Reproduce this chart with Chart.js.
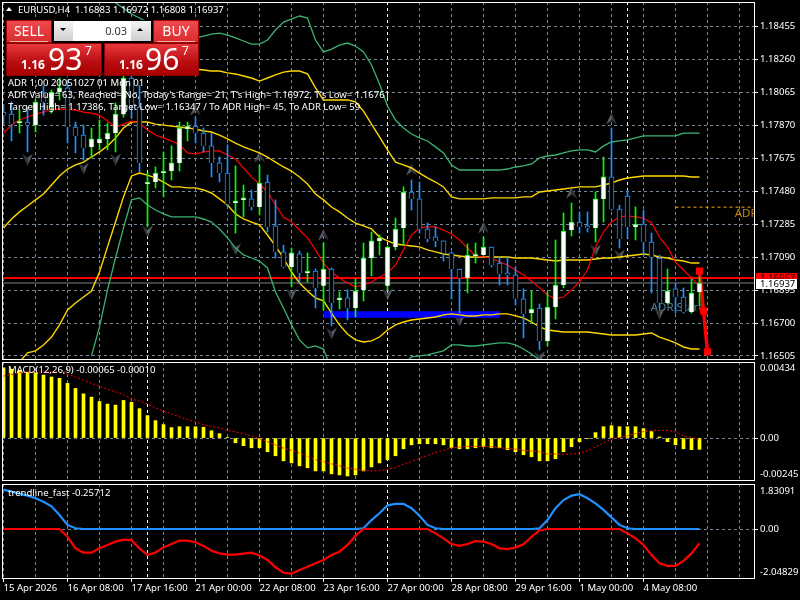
<!DOCTYPE html>
<html>
<head>
<meta charset="utf-8">
<title>EURUSD,H4</title>
<script src="https://cdn.jsdelivr.net/npm/chart.js@4"></script>
<style>
html, body { margin: 0; padding: 0; background: #000; width: 800px; height: 600px; overflow: hidden; }
canvas { position: absolute; left: 0; }
#pricePane { top: 0; }
#macdPane { top: 361px; }
#trendPane { top: 483px; }
.txt { position: absolute; color: #fff; font: 9.55px "Noto Sans", sans-serif; white-space: nowrap; line-height: 12px; }
.box { position: absolute; box-sizing: border-box; }
.red { background: linear-gradient(#e8383c, #b80c10 60%, #a80000); border: 1px solid #8c0000; color: #fff; }
.btn { background: linear-gradient(#ef4a4e, #d82c30); border: 1px solid #a00000; color: #fff; font: 14px "Noto Sans", sans-serif; text-align: center; line-height: 20px; }
.btn i { position: absolute; left: 3px; right: 3px; bottom: 0; height: 1px; background: #f0b0b0; }
.grey { background: linear-gradient(#f4f4f4, #cfcfcf); }
.big { position: absolute; color: #fff; font-family: "Noto Sans", sans-serif; line-height: 1; }
</style>
</head>
<body>
<canvas id="pricePane" width="800" height="360"></canvas>
<canvas id="macdPane" width="800" height="120"></canvas>
<canvas id="trendPane" width="800" height="117"></canvas>

<div class="box" style="left:6px;top:7px;width:0;height:0;border-left:3.5px solid transparent;border-right:3.5px solid transparent;border-bottom:4px solid #fff"></div>
<div class="txt" style="left:18px;top:4px">EURUSD,H4&nbsp; 1.16883 1.16972 1.16808 1.16937</div>

<div class="box btn" style="left:6px;top:20px;width:46px;height:23px">SELL<i></i></div>
<div class="box btn" style="left:153px;top:20px;width:46px;height:23px">BUY<i></i></div>
<div class="box" style="left:52px;top:20px;width:101px;height:23px;background:#000"></div>
<div class="box grey" style="left:54px;top:21px;width:19px;height:20px"></div>
<div class="box" style="left:60px;top:28px;width:0;height:0;border-left:3.5px solid transparent;border-right:3.5px solid transparent;border-top:3.5px solid #000"></div>
<div class="box" style="left:73px;top:21px;width:58px;height:20px;background:#fff;color:#333;font:11px 'Noto Sans',sans-serif;text-align:right;line-height:20px;padding-right:4px">0.03</div>
<div class="box grey" style="left:131px;top:21px;width:20px;height:20px"></div>
<div class="box" style="left:137px;top:28px;width:0;height:0;border-left:3.5px solid transparent;border-right:3.5px solid transparent;border-bottom:3.5px solid #000"></div>
<div class="box red" style="left:6px;top:43px;width:96px;height:33px"></div>
<div class="box red" style="left:104px;top:43px;width:95px;height:33px"></div>
<div class="big" style="left:21px;top:59px;font-size:12px;font-weight:bold">1.16</div>
<div class="big" style="left:48px;top:44px;font-size:30px">93</div>
<div class="big" style="left:85px;top:45px;font-size:12px">7</div>
<div class="big" style="left:119px;top:59px;font-size:12px;font-weight:bold">1.16</div>
<div class="big" style="left:145px;top:44px;font-size:30px">96</div>
<div class="big" style="left:182px;top:45px;font-size:12px">7</div>

<div class="txt" style="left:8px;top:77px">ADR 1,00 20051027 01 Mon 01</div>
<div class="txt" style="left:8px;top:89px">ADR Value= 63, Reached= No, Today's Range= 21, T's High= 1.16972, T's Low= 1.16761</div>
<div class="txt" style="left:8px;top:101px">Target High= 1.17386, Target Low= 1.16347 / To ADR High= 45, To ADR Low= 59</div>

<div class="box" style="left:756px;top:273px;width:41px;height:10px;background:#f00"></div>
<div class="txt" style="left:760px;top:272px;color:#300">1.16967</div>
<div class="box" style="left:756px;top:279px;width:41px;height:10px;background:#fff"></div>
<div class="txt" style="left:760px;top:278px;color:#000">1.16937</div>

<div class="txt" style="left:8px;top:364px">MACD(12,26,9) -0.00065 -0.00010</div>
<div class="txt" style="left:8px;top:487px">trendline_fast -0.25712</div>

<script>
// --- candles
const opens = [1.17949,1.17937,1.17884,1.17890,1.17872,1.18068,1.17979,1.18068,1.18092,1.17861,
  1.17813,1.17743,1.17766,1.17790,1.17825,1.17937,1.18151,1.17979,1.17523,1.17535,
  1.17588,1.17600,1.17648,1.17849,1.17866,1.17825,1.17749,1.17648,1.17588,1.17411,
  1.17429,1.17435,1.17387,1.17535,1.17275,1.17121,1.17032,1.17109,1.16996,1.17008,
  1.16920,1.17020,1.16837,1.16849,1.16789,1.16896,1.17085,1.17186,1.16920,1.17150,
  1.17263,1.17476,1.17435,1.17257,1.17210,1.17186,1.17115,1.17020,1.16967,1.17097,
  1.17103,1.17150,1.17055,1.16996,1.16985,1.16843,1.16759,1.16789,1.16594,1.16795,
  1.16925,1.17251,1.17298,1.17275,1.17263,1.17435,1.17565,1.17375,1.17452,1.17269,
  1.17286,1.17180,1.17085,1.16819,1.16902,1.16854,1.16765,1.16883];
const closes = [1.17931,1.17878,1.17890,1.17872,1.18009,1.18009,1.18068,1.18092,1.17861,1.17808,
  1.17737,1.17790,1.17790,1.17825,1.17937,1.18151,1.17991,1.17648,1.17535,1.17588,
  1.17600,1.17648,1.17855,1.17866,1.17825,1.17749,1.17648,1.17588,1.17405,1.17417,
  1.17435,1.17387,1.17529,1.17269,1.17121,1.17032,1.17115,1.16996,1.17008,1.16908,
  1.17020,1.16819,1.16843,1.16789,1.16890,1.17085,1.17186,1.17204,1.17150,1.17257,
  1.17476,1.17435,1.17257,1.17198,1.17186,1.17115,1.17020,1.16967,1.17103,1.17103,
  1.17150,1.17044,1.16990,1.16985,1.16843,1.16754,1.16783,1.16594,1.16795,1.16925,
  1.17245,1.17298,1.17269,1.17263,1.17435,1.17565,1.17375,1.17198,1.17269,1.17286,
  1.17180,1.17091,1.16819,1.16890,1.16854,1.16765,1.16878,1.16937];
const highs = [1.17991,1.18009,1.17961,1.17979,1.18021,1.18103,1.18080,1.18151,1.18139,1.17890,
  1.17872,1.17855,1.17902,1.17884,1.18003,1.18198,1.18228,1.18109,1.17594,1.17624,
  1.17713,1.17749,1.17890,1.17890,1.17920,1.17855,1.17825,1.17683,1.17755,1.17630,
  1.17517,1.17488,1.17636,1.17576,1.17429,1.17162,1.17144,1.17127,1.17115,1.17020,
  1.17174,1.17026,1.16884,1.16896,1.16961,1.17174,1.17239,1.17222,1.17156,1.17322,
  1.17506,1.17547,1.17535,1.17292,1.17269,1.17186,1.17121,1.17020,1.17168,1.17174,
  1.17210,1.17150,1.17091,1.17091,1.17032,1.16902,1.16890,1.16813,1.16884,1.17192,
  1.17352,1.17411,1.17358,1.17358,1.17476,1.17683,1.17855,1.17399,1.17488,1.17387,
  1.17369,1.17233,1.17103,1.17020,1.16937,1.16908,1.16961,1.16972];
const lows = [1.17878,1.17778,1.17825,1.17713,1.17831,1.17931,1.17943,1.18021,1.17766,1.17707,
  1.17665,1.17678,1.17725,1.17725,1.17713,1.17919,1.17914,1.17594,1.17269,1.17500,
  1.17447,1.17547,1.17600,1.17778,1.17766,1.17713,1.17565,1.17535,1.17387,1.17233,
  1.17328,1.17369,1.17340,1.17239,1.17085,1.17026,1.16914,1.16937,1.16943,1.16789,
  1.16777,1.16683,1.16783,1.16718,1.16736,1.16831,1.16979,1.17103,1.16896,1.17133,
  1.17162,1.17369,1.17233,1.17180,1.17151,1.17067,1.16843,1.16759,1.16878,1.17055,
  1.17103,1.17032,1.16925,1.16925,1.16807,1.16612,1.16700,1.16541,1.16564,1.16724,
  1.16908,1.17215,1.17233,1.17239,1.17180,1.17298,1.17369,1.17144,1.17204,1.17192,
  1.17103,1.16878,1.16789,1.16813,1.16759,1.16759,1.16759,1.16808];

// --- bands
const maFast = [1.17825,1.17872,1.17902,1.17920,1.17937,1.17949,1.17967,1.17967,1.17967,1.17961,
  1.17949,1.17943,1.17931,1.17896,1.17861,1.17878,1.17896,1.17884,1.17843,1.17813,
  1.17796,1.17778,1.17755,1.17707,1.17701,1.17713,1.17719,1.17719,1.17695,1.17671,
  1.17618,1.17565,1.17523,1.17476,1.17399,1.17328,1.17298,1.17251,1.17204,1.17133,
  1.17055,1.17002,1.16967,1.16937,1.16914,1.16925,1.16943,1.16973,1.16996,1.17044,
  1.17133,1.17221,1.17263,1.17269,1.17269,1.17251,1.17227,1.17192,1.17144,1.17097,
  1.17091,1.17085,1.17061,1.17044,1.17014,1.16985,1.16949,1.16908,1.16866,1.16843,
  1.16854,1.16896,1.16943,1.17014,1.17150,1.17239,1.17298,1.17328,1.17334,1.17328,
  1.17322,1.17292,1.17209,1.17150,1.17061,1.17014,1.16967,1.16920];
const bandMiddle = [1.17263,1.17316,1.17358,1.17393,1.17429,1.17464,1.17517,1.17571,1.17612,1.17636,
  1.17653,1.17683,1.17713,1.17749,1.17796,1.17855,1.17890,1.17890,1.17890,1.17878,
  1.17872,1.17866,1.17861,1.17855,1.17849,1.17837,1.17831,1.17813,1.17790,1.17766,
  1.17743,1.17725,1.17707,1.17683,1.17653,1.17624,1.17600,1.17565,1.17523,1.17464,
  1.17429,1.17387,1.17358,1.17322,1.17292,1.17275,1.17257,1.17209,1.17186,1.17168,
  1.17162,1.17156,1.17151,1.17133,1.17121,1.17109,1.17103,1.17097,1.17091,1.17091,
  1.17091,1.17091,1.17091,1.17091,1.17085,1.17085,1.17085,1.17079,1.17073,1.17067,
  1.17073,1.17073,1.17073,1.17073,1.17079,1.17085,1.17085,1.17091,1.17097,1.17103,
  1.17109,1.17103,1.17091,1.17085,1.17073,1.17067,1.17055,1.17055];
const bandUpperInner = [null,null,null,null,null,null,null,null,null,null,
  null,null,null,null,null,null,1.18287,1.18257,1.18233,1.18221,
  1.18216,1.18210,1.18210,1.18204,1.18204,1.18198,1.18192,1.18192,1.18181,1.18175,
  1.18163,1.18151,1.18133,1.18151,1.18169,1.18186,1.18192,1.18192,1.18175,1.18092,
  1.18021,1.18021,1.18021,1.18021,1.18009,1.17955,1.17878,1.17802,1.17725,1.17653,
  1.17636,1.17618,1.17588,1.17559,1.17535,1.17506,1.17447,1.17435,1.17435,1.17435,
  1.17435,1.17441,1.17441,1.17441,1.17441,1.17447,1.17447,1.17476,1.17482,1.17488,
  1.17494,1.17500,1.17506,1.17506,1.17506,1.17517,1.17529,1.17547,1.17559,1.17565,
  1.17571,1.17571,1.17571,1.17571,1.17571,1.17571,1.17565,1.17565];
const bandLowerInner = [null,null,1.16469,1.16523,1.16535,1.16570,1.16617,1.16689,1.16777,1.16819,
  1.16854,1.16890,1.17002,1.17151,1.17298,1.17447,1.17571,1.17588,1.17576,1.17559,
  1.17535,1.17506,1.17506,1.17500,1.17500,1.17488,1.17470,1.17435,1.17399,1.17346,
  1.17316,1.17298,1.17281,1.17221,1.17156,1.17085,1.17002,1.16937,1.16890,1.16848,
  1.16831,1.16759,1.16689,1.16635,1.16600,1.16588,1.16594,1.16617,1.16659,1.16689,
  1.16706,1.16718,1.16724,1.16730,1.16736,1.16748,1.16754,1.16748,1.16742,1.16742,
  1.16748,1.16748,1.16754,1.16754,1.16742,1.16730,1.16706,1.16677,1.16659,1.16653,
  1.16647,1.16647,1.16647,1.16647,1.16641,1.16635,1.16629,1.16629,1.16629,1.16629,
  1.16635,1.16641,1.16617,1.16600,1.16582,1.16558,1.16546,1.16546];
const bandUpperOuter = [null,null,null,null,null,null,null,null,null,null,
  null,null,null,null,1.18595,1.18565,1.18530,1.18506,1.18482,1.18465,
  1.18447,1.18429,1.18417,1.18399,1.18388,1.18399,1.18411,1.18417,1.18405,1.18388,
  1.18370,1.18352,1.18352,1.18376,1.18435,1.18482,1.18500,1.18518,1.18506,1.18376,
  1.18305,1.18322,1.18346,1.18358,1.18340,1.18305,1.18228,1.18115,1.17985,1.17902,
  1.17855,1.17819,1.17796,1.17778,1.17743,1.17707,1.17636,1.17606,1.17606,1.17606,
  1.17606,1.17606,1.17606,1.17612,1.17624,1.17630,1.17642,1.17678,1.17689,1.17695,
  1.17707,1.17719,1.17725,1.17725,1.17713,1.17749,1.17772,1.17778,1.17784,1.17796,
  1.17808,1.17808,1.17808,1.17808,1.17808,1.17825,1.17825,1.17825];
const bandLowerOuter = [null,null,null,null,null,null,null,null,null,null,
  null,1.16505,1.16677,1.16896,1.17085,1.17263,1.17429,1.17441,1.17399,1.17369,
  1.17346,1.17328,1.17328,1.17328,1.17328,1.17316,1.17298,1.17257,1.17204,1.17144,
  1.17103,1.17085,1.17067,1.17026,1.16884,1.16789,1.16689,1.16600,1.16553,1.16564,
  1.16546,1.16422,1.16333,1.16274,1.16245,1.16245,1.16256,1.16292,1.16333,1.16392,
  1.16452,1.16499,1.16505,1.16511,1.16523,1.16535,1.16570,1.16570,1.16564,1.16564,
  1.16570,1.16576,1.16582,1.16582,1.16570,1.16546,1.16517,1.16481,1.16452,1.16422,
  null,null,null,null,null,null,null,null,null,null,
  null,null,null,null,null,null,null,null];

// --- fractal arrows
const upArrowBars = [24,32,40,51,60,71,76];
const upArrowPrices = [1.17961,1.17683,1.17221,1.17606,1.17263,1.17470,1.17908];
const downArrowBars = [3,10,14,18,29,36,41,48,57,67,74,77,82];
const downArrowPrices = [1.17671,1.17618,1.17671,1.17245,1.17139,1.16872,1.16641,1.16872,1.16718,1.16499,1.17133,1.17103,1.16759];

// --- objects on the main window
const askPrice = 1.16967;
const bidPrice = 1.16937;
const adrHigh = 1.17386;
const adrHighBars = [84, 94];
const zoneBars = [40, 62];
const zonePrice = 1.16751;
const zigzagBars = [87, 87.5, 88];
const zigzagPrices = [1.17008, 1.16771, 1.16529];

// --- MACD
const macdValues = [0.00404,0.00395,0.00389,0.00379,0.00376,0.00362,0.00351,0.00343,0.00314,0.00285,
  0.00254,0.00235,0.00210,0.00195,0.00189,0.00216,0.00206,0.00169,0.00129,0.00100,
  0.00077,0.00060,0.00065,0.00065,0.00065,0.00062,0.00042,0.00025,0.00002,-0.00027,
  -0.00044,-0.00056,-0.00056,-0.00079,-0.00102,-0.00131,-0.00143,-0.00160,-0.00171,-0.00189,
  -0.00189,-0.00206,-0.00212,-0.00218,-0.00212,-0.00189,-0.00166,-0.00143,-0.00125,-0.00102,
  -0.00062,-0.00039,-0.00033,-0.00033,-0.00033,-0.00039,-0.00056,-0.00062,-0.00062,-0.00056,
  -0.00050,-0.00056,-0.00056,-0.00067,-0.00079,-0.00096,-0.00108,-0.00131,-0.00131,-0.00119,
  -0.00079,-0.00050,-0.00021,-0.00002,0.00031,0.00065,0.00071,0.00065,0.00065,0.00065,
  0.00054,0.00037,0.00006,-0.00021,-0.00039,-0.00062,-0.00067,-0.00065];
const macdSignal = [0.00356,0.00366,0.00376,0.00379,0.00379,0.00379,0.00379,0.00379,0.00366,0.00351,
  0.00333,0.00314,0.00299,0.00279,0.00266,0.00250,0.00225,0.00212,0.00196,0.00173,
  0.00154,0.00139,0.00121,0.00106,0.00094,0.00077,0.00067,0.00058,0.00044,0.00035,
  0.00025,0.00010,-0.00004,-0.00021,-0.00040,-0.00058,-0.00071,-0.00087,-0.00106,-0.00125,
  -0.00135,-0.00148,-0.00160,-0.00173,-0.00179,-0.00187,-0.00189,-0.00187,-0.00179,-0.00171,
  -0.00150,-0.00135,-0.00116,-0.00100,-0.00083,-0.00071,-0.00056,-0.00052,-0.00048,-0.00048,
  -0.00048,-0.00050,-0.00056,-0.00060,-0.00064,-0.00071,-0.00075,-0.00079,-0.00092,-0.00092,
  -0.00094,-0.00092,-0.00087,-0.00073,-0.00052,-0.00029,-0.00006,0.00002,0.00013,0.00025,
  0.00037,0.00044,0.00044,0.00044,0.00035,0.00013,0.00002,-0.00010];

// --- trendline_fast
const trendUp = [1.63,1.55,1.46,1.38,1.27,1.13,0.94,0.58,0.17,0.03,
  0,0,0,0,0,0,0,0,0,0,
  0,0,0,0,0,0,0,0,0,0,
  0,0,0,0,0,0,0,0,0,0,
  0,0,0,0,0,0.03,0.37,0.65,0.98,1.04,
  1.04,0.86,0.55,0.17,0.03,0,0,0,0,0,
  0,0,0,0,0,0,0,0.03,0.37,0.86,
  1.20,1.38,1.44,1.27,1.06,0.79,0.48,0.17,0.03,0,
  0,0,0,0,0,0,0,0];
const trendDown = [0,0,0,0,0,0,0,0,-0.32,-0.80,
  -0.98,-0.98,-0.80,-0.66,-0.52,-0.44,-0.46,-0.80,-1.08,-0.97,
  -0.76,-0.62,-0.48,-0.48,-0.55,-0.70,-0.90,-1.01,-1.06,-1.06,
  -1.02,-0.98,-1.10,-1.28,-1.59,-1.81,-1.85,-1.70,-1.56,-1.42,
  -1.28,-1.08,-0.94,-0.66,-0.28,0,0,0,0,0,
  0,0,0,0,-0.18,-0.39,-0.62,-0.70,-0.62,-0.50,
  -0.52,-0.62,-0.80,-0.83,-0.76,-0.63,-0.32,-0.06,0,0,
  0,0,0,0,0,0,0,0,-0.18,-0.39,
  -0.66,-1.08,-1.42,-1.53,-1.53,-1.32,-1.01,-0.59];

// --- axes
const priceTicks = [1.18455,1.18260,1.18065,1.17870,1.17675,1.17480,1.17285,1.17090,1.16895,1.16700,1.16505];
const macdExtremes = [0.00434,-0.00245];
const trendExtremes = [1.83091,-2.04829];
const timeTickBars = [0,8,16,24,32,40,48,56,64,72,80];
const timeTickLabels = ['15 Apr 2026','16 Apr 08:00','17 Apr 16:00','21 Apr 00:00','22 Apr 08:00','23 Apr 16:00','27 Apr 00:00','28 Apr 08:00','29 Apr 16:00','1 May 00:00','4 May 08:00'];
const gridBars = [0,4,8,12,16,18,20,24,28,32,36,40,44,48,52,56,60,64,68,72,76,78,80,84,88,92];
const separatorBars = [18,48,78];

const FONT = { family: 'Noto Sans', size: 9.55 };
const GRID = '#778899';
const BULL = '#00ff00';
const BEAR = '#1e90ff';

Chart.defaults.font.family = FONT.family;
Chart.defaults.font.size = FONT.size;
Chart.defaults.color = '#ffffff';

function toPoints(values) {
    return values.map((v, i) => ({ x: i, y: v }));
}

function pairPoints(xs, ys) {
    return xs.map((x, i) => ({ x: x, y: ys[i] }));
}

function lineSet(data, color, width, order, extra) {
    return Object.assign({ type: 'line', data: data, borderColor: color, backgroundColor: color, borderWidth: width,
        pointRadius: 0, tension: 0, order: order, spanGaps: false }, extra || {});
}

// arrow glyph for the fractals
function arrowImage(up) {
    const c = document.createElement('canvas');
    c.width = 13; c.height = 13;
    const g = c.getContext('2d');
    if (!up) { g.translate(13, 13); g.rotate(Math.PI); }
    g.fillStyle = '#565a62';
    g.beginPath(); g.moveTo(6.5, 0); g.lineTo(6.5, 8); g.lineTo(1, 12); g.closePath(); g.fill();
    g.fillStyle = '#33363c';
    g.beginPath(); g.moveTo(6.5, 0); g.lineTo(12, 12); g.lineTo(6.5, 8); g.closePath(); g.fill();
    return c;
}

// white frame and the top/bottom axis values that sit inside the pane
const paneFrame = {
    id: 'paneFrame',
    afterDatasetsDraw(chart, args, opts) {
        const a = chart.chartArea, ctx = chart.ctx;
        ctx.save();
        ctx.strokeStyle = '#ffffff';
        ctx.lineWidth = 1;
        ctx.strokeRect(a.left + 0.5, a.top + 0.5, a.right - a.left - 1, a.bottom - a.top - 1);
        ctx.fillStyle = '#ffffff';
        ctx.font = FONT.size + 'px "' + FONT.family + '"';
        ctx.textBaseline = 'middle';
        (opts.extremes || []).forEach((v, i) => {
            const y = chart.scales.y.getPixelForValue(v) + (i === 0 ? 6 : -6);
            ctx.fillText(v.toFixed(5), a.right + 5, y);
        });
        ctx.restore();
    }
};

// ADR object names, drawn under the candles and cut at the pane edge
const objectNames = {
    id: 'objectNames',
    beforeDatasetsDraw(chart) {
        const a = chart.chartArea, ctx = chart.ctx;
        ctx.save();
        ctx.beginPath(); ctx.rect(a.left, a.top, a.right - a.left - 1, a.bottom - a.top); ctx.clip();
        ctx.font = '11.5px "' + FONT.family + '"';
        ctx.textBaseline = 'middle';
        ctx.fillStyle = '#c8820a';
        ctx.fillText('ADR High', chart.scales.x.getPixelForValue(91.4), chart.scales.y.getPixelForValue(1.17347));
        ctx.fillStyle = '#55808f';
        ctx.fillText('ADR Start', chart.scales.x.getPixelForValue(80.9), chart.scales.y.getPixelForValue(1.16789));
        ctx.restore();
    }
};

function timeAxis(showLabels) {
    return {
        type: 'linear',
        min: -0.1875,
        max: 93.9375,
        offset: false,
        afterBuildTicks(scale) { scale.ticks = gridBars.map(v => ({ value: v })); },
        afterFit(scale) {
            scale.height = showLabels ? 21 : 0;
            scale.paddingLeft = 0;
            scale.paddingRight = 0;
        },
        border: { display: false, dash: [3, 3] },
        grid: {
            offset: false,
            drawTicks: showLabels,
            tickLength: 3,
            color: ctx => separatorBars.includes(ctx.tick.value) ? '#ffffff' : GRID,
            tickColor: ctx => timeTickBars.includes(ctx.tick.value) ? '#ffffff' : 'rgba(0,0,0,0)'
        },
        ticks: {
            display: showLabels,
            autoSkip: false,
            maxRotation: 0,
            align: 'start',
            padding: 1,
            callback: v => {
                const at = timeTickBars.indexOf(v);
                return at < 0 ? '' : timeTickLabels[at];
            }
        }
    };
}

function valueAxis(min, max, ticks, label) {
    return {
        position: 'right',
        min: min,
        max: max,
        afterBuildTicks(scale) { scale.ticks = ticks.map(v => ({ value: v })); },
        afterFit(scale) {
            scale.width = 45;
            scale.paddingTop = 0;
            scale.paddingBottom = 0;
        },
        border: { display: false, dash: [3, 3] },
        grid: { color: GRID, tickColor: '#ffffff', tickLength: 3 },
        ticks: { autoSkip: false, padding: 2, callback: label }
    };
}

function baseOptions(top, xAxis, yAxis, extremes) {
    return {
        responsive: false,
        animation: false,
        devicePixelRatio: 1,
        layout: { autoPadding: false, padding: { left: 2, right: 0, top: top, bottom: 0 } },
        plugins: { legend: { display: false }, tooltip: { enabled: false }, paneFrame: { extremes: extremes } },
        scales: { x: xAxis, y: yAxis }
    };
}

const isBull = closes.map((c, i) => c >= opens[i]);

new Chart(document.getElementById('pricePane'), {
    type: 'line',
    plugins: [paneFrame, objectNames],
    data: {
        datasets: [
            { type: 'bar', data: toPoints(closes.map((c, i) => [opens[i], c])), grouped: false, barThickness: 5, minBarLength: 2,
              backgroundColor: isBull.map(b => b ? '#ffffff' : '#000000'), borderColor: isBull.map(b => b ? BULL : BEAR), borderWidth: 1, order: 0 },
            { type: 'bar', data: toPoints(highs.map((h, i) => [lows[i], h])), grouped: false, barThickness: 1,
              backgroundColor: isBull.map(b => b ? BULL : BEAR), borderWidth: 0, order: 1 },
            lineSet(pairPoints(zigzagBars, zigzagPrices), '#ff0000', 3.5, 2, { pointRadius: 5, pointStyle: 'rect', pointBackgroundColor: '#ff0000', pointBorderColor: '#ff0000', pointBorderWidth: 0 }),
            lineSet(toPoints(maFast), '#ff0000', 1.2, 3),
            lineSet(toPoints(bandUpperOuter), '#3cb371', 1.3, 4),
            lineSet(toPoints(bandLowerOuter), '#3cb371', 1.3, 4),
            lineSet(toPoints(bandUpperInner), '#ffd700', 1.4, 4),
            lineSet(toPoints(bandMiddle), '#ffd700', 1.4, 4),
            lineSet(toPoints(bandLowerInner), '#ffd700', 1.4, 4),
            lineSet(pairPoints(zoneBars, [zonePrice, zonePrice]), '#0000ff', 6.5, 5, { borderCapStyle: 'butt' }),
            lineSet(pairPoints(adrHighBars, [adrHigh, adrHigh]), '#ffa500', 1, 6, { borderDash: [3, 3] }),
            lineSet(pairPoints([-1, 95], [askPrice, askPrice]), '#ff0000', 2, 7),
            lineSet(pairPoints([-1, 95], [bidPrice, bidPrice]), '#808080', 1, 8),
            lineSet(pairPoints(upArrowBars, upArrowPrices), 'rgba(0,0,0,0)', 0, 9, { showLine: false, pointRadius: 6.5, pointStyle: arrowImage(true) }),
            lineSet(pairPoints(downArrowBars, downArrowPrices), 'rgba(0,0,0,0)', 0, 9, { showLine: false, pointRadius: 6.5, pointStyle: arrowImage(false) })
        ]
    },
    options: baseOptions(2, timeAxis(false), valueAxis(1.16481, 1.18601, priceTicks, v => v.toFixed(5)), [])
});

new Chart(document.getElementById('macdPane'), {
    type: 'line',
    plugins: [paneFrame],
    data: {
        datasets: [
            lineSet(toPoints(macdSignal), '#ff0000', 1, 0, { borderDash: [2, 2] }),
            { type: 'bar', data: toPoints(macdValues), grouped: false, barThickness: 3, backgroundColor: '#ffff00', borderWidth: 0, order: 1 }
        ]
    },
    options: baseOptions(1, timeAxis(false), valueAxis(-0.00247, 0.00437, [0], () => '0.00'), macdExtremes)
});

new Chart(document.getElementById('trendPane'), {
    type: 'line',
    plugins: [paneFrame],
    data: {
        datasets: [
            lineSet(toPoints(trendDown), '#ff0000', 2.2, 0),
            lineSet(toPoints(trendUp), '#1e90ff', 2.2, 1)
        ]
    },
    options: baseOptions(1, timeAxis(true), valueAxis(-2.07, 1.863, [0], () => '0.00'), trendExtremes)
});
</script>
</body>
</html>
